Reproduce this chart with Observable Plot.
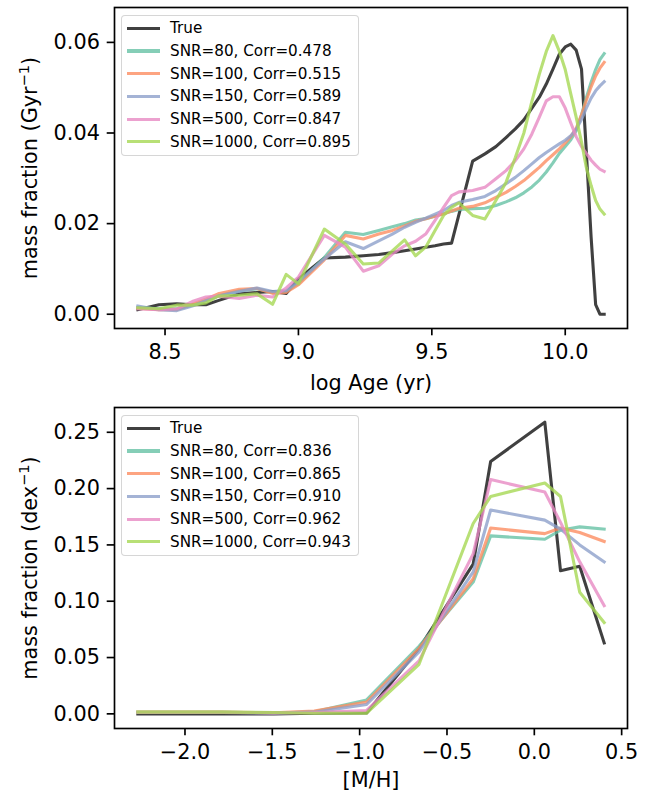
<!DOCTYPE html>
<html><head><meta charset="utf-8">
<script src="https://cdn.jsdelivr.net/npm/d3@7"></script>
<script src="https://cdn.jsdelivr.net/npm/@observablehq/plot@0.6"></script>
<style>
html,body{margin:0;padding:0;background:#fff;overflow:hidden;}
#wrap{position:relative;width:661px;height:796px;font-family:"DejaVu Sans",sans-serif;}
.panel{position:absolute;left:0;}
.legend{position:absolute;left:121px;box-sizing:border-box;width:238px;height:141px;background:rgba(255,255,255,0.8);border:1.3px solid rgba(204,204,204,0.8);border-radius:4px;padding:1px 4px 3px 5px;font-size:15.2px;color:#000;}
.row{display:flex;align-items:center;height:22.7px;white-space:nowrap;}
.sw{width:33px;height:3.1px;margin-right:10px;flex:none;}
</style></head>
<body><div id="wrap"></div>
<script>
// ---- categories / series names ----
const seriesNames = ["True", "SNR=80", "SNR=100", "SNR=150", "SNR=500", "SNR=1000"];
const ageCorr = [null, "0.478", "0.515", "0.589", "0.847", "0.895"];
const mhCorr  = [null, "0.836", "0.865", "0.910", "0.962", "0.943"];
const seriesColors = ["#000000", "#66c2a5", "#fc8d62", "#8da0cb", "#e78ac3", "#a6d854"];
const seriesAlpha = [0.75, 0.8, 0.8, 0.8, 0.8, 0.8];

// ---- top panel: log Age grid ----
const logAge = [8.398, 8.477, 8.544, 8.602, 8.653, 8.699, 8.778, 8.845, 8.903, 8.954, 9.000,
  9.097, 9.176, 9.243, 9.301, 9.352, 9.398, 9.439, 9.477, 9.512, 9.544, 9.574, 9.602,
  9.653, 9.699, 9.740, 9.778, 9.813, 9.845, 9.875, 9.903, 9.929, 9.954, 9.978, 10.000,
  10.021, 10.041, 10.061, 10.079, 10.097, 10.114, 10.130, 10.146];
const ageTrue = [0.0010, 0.0021, 0.0023, 0.0021, 0.0021, 0.0030, 0.0045, 0.0048, 0.0050, 0.0046, 0.0078,
  0.0124, 0.0126, 0.0129, 0.0132, 0.0136, 0.0140, 0.0144, 0.0148, 0.0151, 0.0155, 0.0157, 0.0221,
  0.0338, 0.0354, 0.0370, 0.0390, 0.0409, 0.0429, 0.0455, 0.0479, 0.0508, 0.0541, 0.0574, 0.0590,
  0.0596, 0.0583, 0.0541, 0.0360, 0.0170, 0.0021, 0.0000, 0.0000];
const ageSNR80 = [0.0015, 0.0012, 0.0012, 0.0020, 0.0030, 0.0040, 0.0052, 0.0056, 0.0048, 0.0050, 0.0068,
  0.0125, 0.0181, 0.0176, 0.0185, 0.0193, 0.0200, 0.0208, 0.0211, 0.0216, 0.0222, 0.0227, 0.0231,
  0.0233, 0.0234, 0.0240, 0.0248, 0.0257, 0.0268, 0.0281, 0.0296, 0.0314, 0.0334, 0.0355, 0.0370,
  0.0385, 0.0405, 0.0440, 0.0478, 0.0512, 0.0540, 0.0562, 0.0575];
const ageSNR100 = [0.0013, 0.0010, 0.0010, 0.0022, 0.0033, 0.0045, 0.0055, 0.0057, 0.0046, 0.0048, 0.0065,
  0.0120, 0.0174, 0.0166, 0.0177, 0.0185, 0.0195, 0.0205, 0.0211, 0.0217, 0.0221, 0.0228, 0.0234,
  0.0238, 0.0246, 0.0258, 0.0269, 0.0282, 0.0295, 0.0310, 0.0324, 0.0339, 0.0352, 0.0365, 0.0378,
  0.0392, 0.0410, 0.0440, 0.0472, 0.0502, 0.0526, 0.0543, 0.0556];
const ageSNR150 = [0.0018, 0.0010, 0.0008, 0.0018, 0.0030, 0.0040, 0.0050, 0.0058, 0.0050, 0.0052, 0.0072,
  0.0122, 0.0160, 0.0145, 0.0162, 0.0177, 0.0192, 0.0203, 0.0212, 0.0221, 0.0229, 0.0240, 0.0247,
  0.0253, 0.0260, 0.0273, 0.0288, 0.0302, 0.0317, 0.0332, 0.0346, 0.0357, 0.0367, 0.0376, 0.0384,
  0.0394, 0.0408, 0.0430, 0.0455, 0.0477, 0.0493, 0.0504, 0.0513];
const ageSNR500 = [0.0012, 0.0010, 0.0012, 0.0028, 0.0038, 0.0040, 0.0035, 0.0042, 0.0038, 0.0058, 0.0082,
  0.0174, 0.0148, 0.0095, 0.0107, 0.0133, 0.0151, 0.0161, 0.0177, 0.0207, 0.0236, 0.0262, 0.0270,
  0.0273, 0.0280, 0.0299, 0.0317, 0.0339, 0.0365, 0.0398, 0.0435, 0.0471, 0.0480, 0.0480, 0.0455,
  0.0422, 0.0392, 0.0370, 0.0355, 0.0340, 0.0329, 0.0320, 0.0315];
const ageSNR1000 = [0.0014, 0.0012, 0.0020, 0.0020, 0.0025, 0.0040, 0.0042, 0.0045, 0.0022, 0.0088, 0.0067,
  0.0188, 0.0155, 0.0111, 0.0113, 0.0140, 0.0164, 0.0129, 0.0148, 0.0185, 0.0218, 0.0236, 0.0246,
  0.0218, 0.0210, 0.0251, 0.0291, 0.0346, 0.0400, 0.0470, 0.0530, 0.0580, 0.0615, 0.0580, 0.0540,
  0.0486, 0.0435, 0.0380, 0.0324, 0.0284, 0.0251, 0.0232, 0.0221];
const ageXTicks = [8.5, 9.0, 9.5, 10.0];
const ageYTicks = [0.00, 0.02, 0.04, 0.06];

// ---- bottom panel: [M/H] grid ----
const metal = [-2.27, -1.79, -1.49, -1.26, -0.96, -0.66, -0.35, -0.25, 0.06, 0.15, 0.26, 0.40];
const mhTrue    = [0.0000, 0.0000, 0.0000, 0.0005, 0.0008, 0.058, 0.133, 0.224, 0.259, 0.127, 0.131, 0.063];
const mhSNR80   = [0.0015, 0.0015, 0.0008, 0.0018, 0.0124, 0.060, 0.117, 0.158, 0.155, 0.163, 0.166, 0.164];
const mhSNR100  = [0.0015, 0.0015, 0.0010, 0.0025, 0.0104, 0.058, 0.120, 0.165, 0.160, 0.165, 0.161, 0.153];
const mhSNR150  = [0.0012, 0.0012, 0.0008, 0.0015, 0.0083, 0.055, 0.126, 0.181, 0.172, 0.164, 0.150, 0.135];
const mhSNR500  = [0.0012, 0.0012, 0.0008, 0.0012, 0.0030, 0.047, 0.142, 0.208, 0.197, 0.170, 0.135, 0.096];
const mhSNR1000 = [0.0015, 0.0015, 0.0012, 0.0006, 0.0006, 0.044, 0.169, 0.193, 0.205, 0.193, 0.108, 0.081];
const mhXTicks = [-2.0, -1.5, -1.0, -0.5, 0.0, 0.5];
const mhYTicks = [0.00, 0.05, 0.10, 0.15, 0.20, 0.25];

// matplotlib-like 5% auto margins
function pad(vals) {
  const lo = d3.min(vals), hi = d3.max(vals), m = 0.05 * (hi - lo);
  return [lo - m, hi + m];
}

function panel(o) {
  const marks = [
    Plot.frame({stroke: "black", strokeWidth: 1.67}),
    Plot.axisX({ticks: o.xTicks, tickFormat: d3.format(".1f"), tickSize: 7.3, tickPadding: 8.5,
      strokeWidth: 1.67, label: o.xLabel, labelAnchor: "center", labelArrow: "none", labelOffset: o.xLabelOffset}),
    Plot.axisY({ticks: o.yTicks, tickFormat: d3.format(".2f"), tickSize: 7.3, tickPadding: 7.3,
      strokeWidth: 1.67, label: o.yLabel, labelAnchor: "center", labelArrow: "none", labelOffset: 92})
  ];
  o.series.forEach((vals, i) => {
    const data = o.xs.map((x, j) => ({x, y: vals[j]}));
    marks.push(Plot.line(data, {x: "x", y: "y", stroke: seriesColors[i], strokeOpacity: seriesAlpha[i],
      strokeWidth: 3.1, strokeLinejoin: "round", strokeLinecap: "square"}));
  });
  const svg = Plot.plot({
    width: 661, height: o.height,
    marginLeft: 114, marginRight: 34, marginTop: 7, marginBottom: o.marginBottom,
    x: {domain: o.xDomain},
    y: {domain: o.yDomain},
    style: {fontFamily: "DejaVu Sans", fontSize: "20.8px", color: "black", background: "white"},
    marks
  });
  // render the "−1" exponent as a real superscript (smaller, raised) like matplotlib mathtext
  svg.querySelectorAll("text").forEach(t => {
    const s = t.textContent;
    if (!s.includes("⁻¹")) return;
    const [pre, post] = s.split("⁻¹");
    while (t.firstChild) t.removeChild(t.firstChild);
    const ns = "http://www.w3.org/2000/svg";
    const a = document.createElementNS(ns, "tspan"); a.textContent = pre;
    const b = document.createElementNS(ns, "tspan"); b.textContent = "−1";
    b.setAttribute("font-size", "14.6px"); b.setAttribute("dy", "-8");
    const c = document.createElementNS(ns, "tspan"); c.textContent = post; c.setAttribute("dy", "8");
    t.append(a, b, c);
  });
  return svg;
}

function legend(top, corr) {
  const box = document.createElement("div");
  box.className = "legend";
  box.style.top = top + "px";
  seriesNames.forEach((name, i) => {
    const row = document.createElement("div");
    row.className = "row";
    const sw = document.createElement("span");
    sw.className = "sw";
    sw.style.background = seriesColors[i];
    sw.style.opacity = seriesAlpha[i];
    const t = document.createElement("span");
    t.textContent = corr[i] ? `${name}, Corr=${corr[i]}` : name;
    row.append(sw, t);
    box.append(row);
  });
  return box;
}

const wrap = document.getElementById("wrap");

const top1 = panel({
  xs: logAge,
  series: [ageTrue, ageSNR80, ageSNR100, ageSNR150, ageSNR500, ageSNR1000],
  xTicks: ageXTicks, yTicks: ageYTicks,
  xDomain: pad(logAge), yDomain: [-0.00315, 0.0677],
  xLabel: "log Age (yr)", yLabel: "mass fraction (Gyr⁻¹)",
  height: 400, marginBottom: 72, xLabelOffset: 61
});
const d1 = document.createElement("div"); d1.className = "panel"; d1.style.top = "0px"; d1.append(top1);
wrap.append(d1);
wrap.append(legend(15, ageCorr));

const bot = panel({
  xs: metal,
  series: [mhTrue, mhSNR80, mhSNR100, mhSNR150, mhSNR500, mhSNR1000],
  xTicks: mhXTicks, yTicks: mhYTicks,
  xDomain: pad(metal), yDomain: [-0.013, 0.272],
  xLabel: "[M/H]", yLabel: "mass fraction (dex⁻¹)",
  height: 396, marginBottom: 68, xLabelOffset: 58
});
const d2 = document.createElement("div"); d2.className = "panel"; d2.style.top = "400px"; d2.append(bot);
wrap.append(d2);
wrap.append(legend(415, mhCorr));
</script></body></html>
